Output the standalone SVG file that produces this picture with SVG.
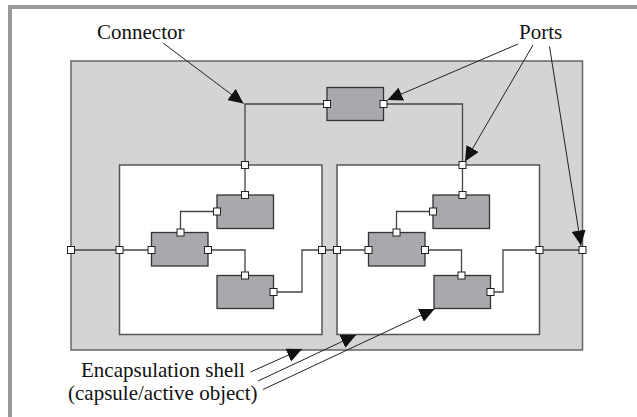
<svg xmlns="http://www.w3.org/2000/svg" width="637" height="417" viewBox="0 0 637 417">
<style>
.frame{fill:none;stroke:#999;stroke-width:4}
.shell{fill:#d3d4d6;stroke:#666;stroke-width:1.5}
.inner{fill:#fff;stroke:#555;stroke-width:1.5}
.cap{fill:#a8a9ac;stroke:#333;stroke-width:1.3}
.port{fill:#fff;stroke:#222;stroke-width:1}
.wire{fill:none;stroke:#444;stroke-width:1.3}
.lead{fill:none;stroke:#222;stroke-width:1}
.lbl{font-family:"Liberation Serif","Times New Roman",serif;font-size:21px;fill:#111}
</style>
<defs>
<marker id="ah" markerUnits="userSpaceOnUse" markerWidth="16" markerHeight="14" viewBox="0 0 16 14" refX="15" refY="7" orient="auto">
<path d="M0,0 L15,7 L0,14 z" fill="#111"/>
</marker>
</defs>
<rect width="637" height="417" fill="#fff"/>
<path class="frame" d="M10,417 V7 H637"/>
<g id="shell"><rect class="shell" x="71" y="61" width="511.5" height="289"/></g>
<g id="inner-left"><rect class="inner" x="119.5" y="165" width="202.5" height="169.5"/></g>
<g id="inner-right"><rect class="inner" x="337" y="165" width="202.5" height="169.5"/></g>
<g id="top-capsule"><rect class="cap" x="327" y="87.5" width="56.5" height="33"/></g>
<g id="l-a"><rect class="cap" x="217" y="195" width="56.5" height="33.5"/></g>
<g id="l-b"><rect class="cap" x="151.5" y="232.5" width="56.5" height="33.5"/></g>
<g id="l-c"><rect class="cap" x="217" y="275.5" width="56.5" height="33"/></g>
<g id="r-a"><rect class="cap" x="433" y="195" width="56.5" height="33.5"/></g>
<g id="r-b"><rect class="cap" x="368.5" y="232.5" width="56.5" height="33.5"/></g>
<g id="r-c"><rect class="cap" x="434" y="275.5" width="56.5" height="33"/></g>
<g id="connectors">
<path class="wire" d="M327,104 H245 V195"/>
<path class="wire" d="M383.5,104 H462.5 V195"/>
<path class="wire" d="M71,250 H151.5"/>
<path class="wire" d="M180.5,232.5 V211.5 H217"/>
<path class="wire" d="M208,250 H245 V275.5"/>
<path class="wire" d="M273.5,292 H302 V250 H368.5"/>
<path class="wire" d="M396.5,232.5 V211.5 H433"/>
<path class="wire" d="M425,250 H461.5 V275.5"/>
<path class="wire" d="M490.5,292 H503 V250 H582.5" stroke="#111"/>
</g>
<g id="ports">
<rect class="port" x="323.5" y="100.5" width="7" height="7"/>
<rect class="port" x="380" y="100.5" width="7" height="7"/>
<rect class="port" x="241.5" y="161.5" width="7" height="7"/>
<rect class="port" x="459" y="161.5" width="7" height="7"/>
<rect class="port" x="241.5" y="191.5" width="7" height="7"/>
<rect class="port" x="459" y="191.5" width="7" height="7"/>
<rect class="port" x="213.5" y="208" width="7" height="7"/>
<rect class="port" x="429.5" y="208" width="7" height="7"/>
<rect class="port" x="177" y="229" width="7" height="7"/>
<rect class="port" x="393" y="229" width="7" height="7"/>
<rect class="port" x="67.5" y="246.5" width="7" height="7"/>
<rect class="port" x="116" y="246.5" width="7" height="7"/>
<rect class="port" x="148" y="246.5" width="7" height="7"/>
<rect class="port" x="204.5" y="246.5" width="7" height="7"/>
<rect class="port" x="318.5" y="246.5" width="7" height="7"/>
<rect class="port" x="333.5" y="246.5" width="7" height="7"/>
<rect class="port" x="365" y="246.5" width="7" height="7"/>
<rect class="port" x="421.5" y="246.5" width="7" height="7"/>
<rect class="port" x="536" y="246.5" width="7" height="7"/>
<rect class="port" x="579" y="246.5" width="7" height="7"/>
<rect class="port" x="241.5" y="272" width="7" height="7"/>
<rect class="port" x="458" y="272" width="7" height="7"/>
<rect class="port" x="270" y="288.5" width="7" height="7"/>
<rect class="port" x="487" y="288.5" width="7" height="7"/>
</g>
<g id="labels">
<text class="lbl" x="97" y="39">Connector</text>
<text class="lbl" x="519" y="39">Ports</text>
<text class="lbl" x="81" y="377">Encapsulation shell</text>
<text class="lbl" x="68" y="400">(capsule/active object)</text>
</g>
<g id="leaders">
<path class="lead" d="M163,43 L243.5,103.5" marker-end="url(#ah)"/>
<path class="lead" d="M518,44 L387.5,100" marker-end="url(#ah)"/>
<path class="lead" d="M533,45 L465,161.5" marker-end="url(#ah)"/>
<path class="lead" d="M549.5,46.5 L581,245.5" marker-end="url(#ah)"/>
<path class="lead" d="M250.5,372 L302,349" marker-end="url(#ah)"/>
<path class="lead" d="M258,381 L356,335" marker-end="url(#ah)"/>
<path class="lead" d="M263,389.5 L434.5,309" marker-end="url(#ah)"/>
</g>
</svg>
